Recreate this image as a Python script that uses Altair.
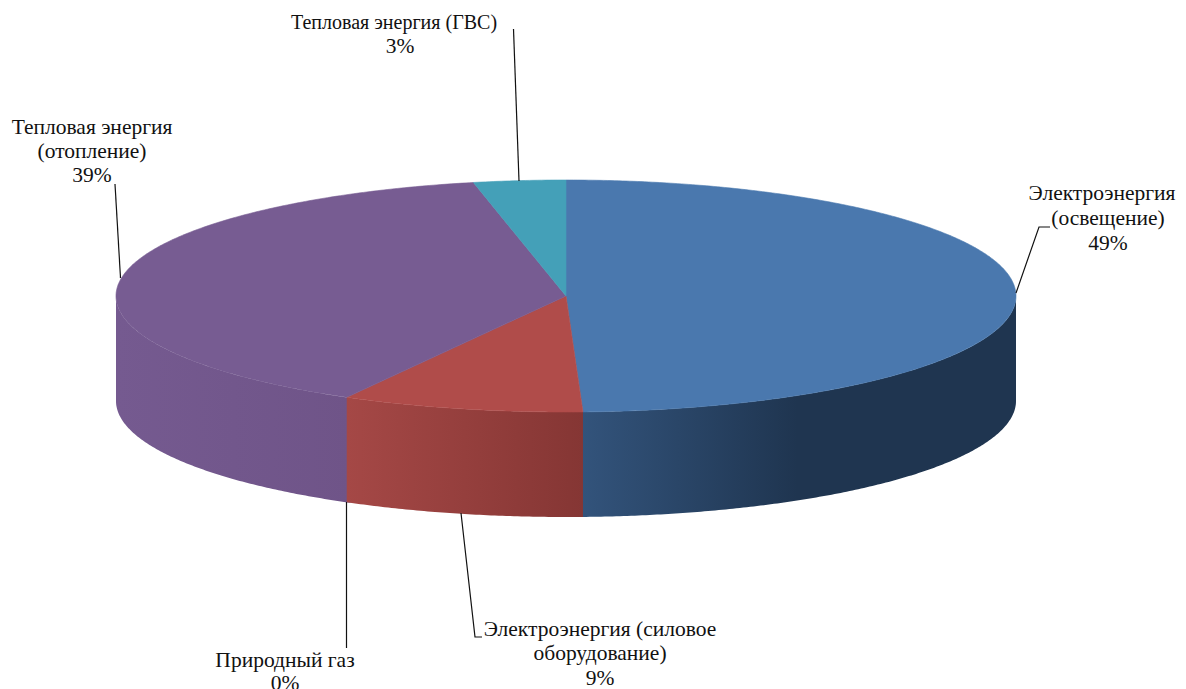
import numpy as np
import pandas as pd
import altair as alt

# --- values (percent shares, clockwise from 12 o'clock)
categories = ["Электроэнергия (освещение)", "Электроэнергия (силовое оборудование)",
              "Природный газ", "Тепловая энергия (отопление)", "Тепловая энергия (ГВС)"]
shares = [49.4, 8.7, 0.0, 38.6, 3.3]
top_colors = ["#4a78ae", "#b04c4a", "#9bbb59", "#775c92", "#44a0b8"]
wall_stops = {
    3: [(0, "#755a90"), (1, "#6f5488")],
    0: [(0, "#33547c"), (0.5, "#1f3550"), (1, "#1f3550")],
    1: [(0, "#a54846"), (1, "#853634")],
}

# --- pie geometry
CX, CY, RX, RY, DEPTH = 566, 296, 450, 116, 105

# --- labels
label_x = [1102, 1108, 1108, 600, 600, 600, 285, 285, 92, 92, 92, 394, 400]
label_y = [194, 219, 244, 630, 654, 679, 661, 684, 128, 152, 176, 23, 47]
label_size = [21.5, 21.5, 21.5, 21.5, 21.5, 21.5, 21.5, 21.5, 21.5, 21.5, 21.5, 20, 21.5]
label_text = ["Электроэнергия", "(освещение)", "49%",
              "Электроэнергия (силовое", "оборудование)", "9%",
              "Природный газ", "0%",
              "Тепловая энергия", "(отопление)", "39%",
              "Тепловая энергия (ГВС)", "3%"]

# --- leader lines
leaders = [
    ([1050, 1039, 1016], [227, 227, 293]),
    ([482, 475, 461], [637, 637, 513]),
    ([346.5, 346.5], [648, 502]),
    ([115, 120.5], [184, 278]),
    ([513.5, 519], [29, 181]),
]

xs = alt.Scale(domain=[8, 1178], range=[0, 1170])
ys = alt.Scale(domain=[8, 689], range=[0, 681])
X = lambda f: alt.X(f, type="quantitative", scale=xs, axis=None)
Y = lambda f: alt.Y(f, type="quantitative", scale=ys, axis=None)

edges = np.cumsum([0] + shares) / 100 * 2 * np.pi


def rim(a0, a1):
    t = np.linspace(a0, a1, max(3, int((a1 - a0) * 120)))
    return CX + RX * np.sin(t), CY - RY * np.cos(t)


layers = []

# side walls: only the part of the rim on the near side (pi/2 .. 3pi/2);
# purple and blue run slightly under the red wall, which is drawn last
for i, stops in wall_stops.items():
    a0 = max(edges[i], np.pi / 2)
    a1 = min(edges[i + 1], 3 * np.pi / 2)
    if i == 3:
        a0 -= 0.01
    if i == 0:
        a1 += 0.01
    x, y = rim(a0, a1)
    df = pd.DataFrame({"x": x, "y": y, "y2": y + DEPTH})
    grad = alt.Gradient(gradient="linear", x1=0, x2=1, y1=0, y2=0,
                        stops=[alt.GradientStop(offset=o, color=c) for o, c in stops])
    layers.append(
        alt.Chart(df).mark_area(color=grad, interpolate="linear", orient="vertical")
        .encode(x=X("x"), y=Y("y"), y2="y2:Q")
    )

# top face sectors
for i, col in enumerate(top_colors):
    if shares[i] <= 0:
        continue
    x, y = rim(edges[i], edges[i + 1])
    df = pd.DataFrame({"x": np.r_[CX, x, CX], "y": np.r_[CY, y, CY]})
    df["i"] = range(len(df))
    layers.append(
        alt.Chart(df).mark_line(fill=col, stroke=col, strokeWidth=0.6)
        .encode(x=X("x"), y=Y("y"), order="i:Q")
    )

# leader lines
for lx, ly in leaders:
    df = pd.DataFrame({"x": lx, "y": ly, "i": range(len(lx))})
    layers.append(
        alt.Chart(df).mark_line(color="#111111", strokeWidth=1.2)
        .encode(x=X("x"), y=Y("y"), order="i:Q")
    )

labels = pd.DataFrame({"x": label_x, "y": label_y, "t": label_text, "s": label_size})
layers.append(
    alt.Chart(labels).mark_text(font="Liberation Serif", color="#111111",
                                align="center", baseline="middle", clip=False)
    .encode(x=X("x"), y=Y("y"), text="t:N",
            size=alt.Size("s:Q", scale=None, legend=None))
)

chart = (
    alt.layer(*layers)
    .properties(width=1170, height=681, padding=0,
                autosize=alt.AutoSizeParams(type="none"),
                background="white")
    .configure_view(stroke=None)
)
chart.save("out.html", embed_options={"renderer": "svg", "actions": False})
